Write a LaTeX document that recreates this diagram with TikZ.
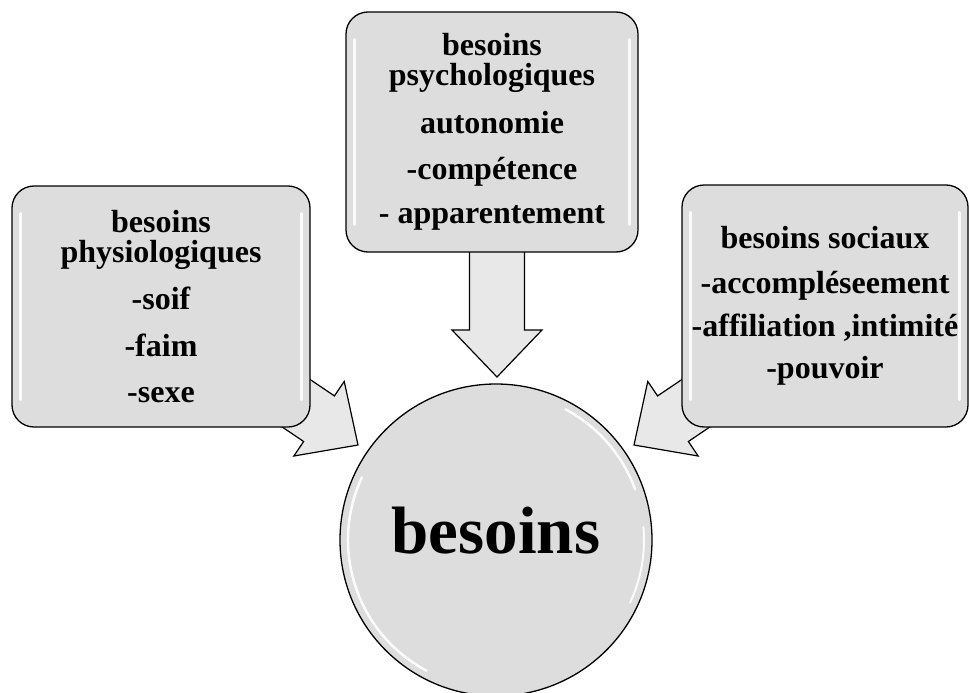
\documentclass[tikz,border=0pt]{standalone}
\usepackage{fontspec}
\setmainfont{Liberation Serif}
\usetikzlibrary{calc}
\definecolor{boxgray}{RGB}{221,221,221}
\definecolor{arrgray}{RGB}{232,232,232}
\tikzset{
  needbox/.style={draw=black, line width=1.3pt, fill=boxgray, rounded corners=22pt,
    align=center, inner sep=0pt, font=\bfseries\fontsize{32}{30}\selectfont},
  hub/.style={draw=black, line width=1.3pt, fill=boxgray, circle, minimum size=312pt, inner sep=0pt},
  hubtext/.style={font=\bfseries\fontsize{67}{67}\selectfont, inner sep=0pt},
  blockarr/.style={draw=black, line width=1.2pt, fill=arrgray, line join=miter},
  gloss/.style={white, line width=3pt, line cap=round, opacity=0.9}
}
\newcommand\blockarrow[2]{%
  \coordinate (hb) at ($(#2)!47pt!(#1)$);
  \draw[blockarr] ($(#1)!27.5pt!90:(#2)$) -- ($(hb)!27.5pt!90:(#2)$) -- ($(hb)!45pt!90:(#2)$)
    -- (#2) -- ($(hb)!45pt!-90:(#2)$) -- ($(hb)!27.5pt!-90:(#2)$) -- ($(#1)!27.5pt!-90:(#2)$) -- cycle;
}
\begin{document}
\begin{tikzpicture}[x=1pt,y=-1pt]
\useasboundingbox (0,0) rectangle (969,693);
\clip (0,0) rectangle (969,693);
% arrow anchor coordinates
\coordinate (sL) at (238,364);
\coordinate (tL) at (358,445);
\coordinate (sC) at (497,200);
\coordinate (tC) at (497,377);
\coordinate (sR) at (754,364);
\coordinate (tR) at (634,445);
\blockarrow{sL}{tL}
\blockarrow{sC}{tC}
\blockarrow{sR}{tR}
% boxes
\node[needbox, minimum width=298pt, minimum height=241pt] (phys) at (161,306.5)
  {besoins\\physiologiques\\[17pt]-soif\\[17pt]-faim\\[16pt]-sexe};
\node[needbox, minimum width=292pt, minimum height=240pt] (psy) at (492,132)
  {besoins\\psychologiques\\[18pt]autonomie\\[16pt]-compétence\\[14pt]- apparentement};
\node[needbox, minimum width=286pt, minimum height=242pt] (soc) at (825,306)
  {besoins sociaux\\[15pt]-accompléseement\\[13pt]-affiliation ,intimité\\[12pt]-pouvoir};
% gloss highlights on boxes
\foreach \b in {phys,psy,soc}{
  \draw[gloss] ($(\b.north west)+(9,28)$) -- ($(\b.south west)+(9,-28)$);
  \draw[gloss] ($(\b.north east)+(-9,28)$) -- ($(\b.south east)+(-9,-28)$);
}
% hub circle
\node[hub] (hub) at (496,540) {};
\draw[gloss, line width=2.5pt] ($(hub.center)+(118:148)$) arc[start angle=118, end angle=205, radius=148];
\draw[gloss, line width=2.5pt] ($(hub.center)+(-20:148)$) arc[start angle=-20, end angle=-62, radius=148];
\draw[gloss, line width=2pt] ($(hub.center)+(25:148)$) arc[start angle=25, end angle=-5, radius=148];
\node[hubtext, yshift=9pt] (hubt) at (hub.center) {besoins};
\end{tikzpicture}
\end{document}
